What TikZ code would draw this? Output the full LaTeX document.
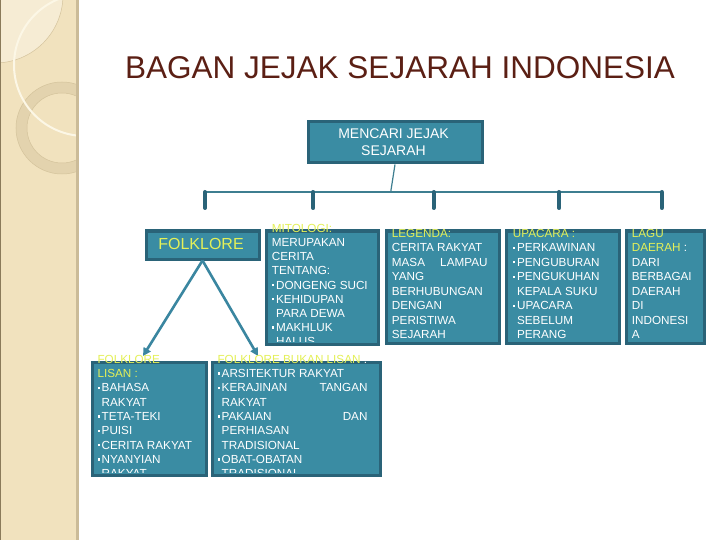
\documentclass[tikz,border=0pt]{standalone}
\usepackage{fontspec}
\setmainfont{Liberation Sans}
\usetikzlibrary{arrows.meta}
\definecolor{boxfill}{RGB}{58,140,163}
\definecolor{boxline}{RGB}{42,99,120}
\definecolor{linkcol}{RGB}{62,126,144}
\definecolor{arrowcol}{RGB}{58,134,160}
\definecolor{yel}{RGB}{228,240,88}
\definecolor{titlecol}{RGB}{91,31,20}
\definecolor{strip}{RGB}{241,226,190}
\definecolor{stripedge}{RGB}{203,187,152}
\definecolor{stripdark}{RGB}{138,122,90}
\definecolor{lightpatch}{RGB}{246,236,212}
\definecolor{ringcol}{RGB}{227,211,174}
\definecolor{ringedge}{RGB}{212,195,156}
\definecolor{whitearc}{RGB}{252,247,230}
\newcommand\bul{\rule[2.9pt]{2.3pt}{2.3pt}\hspace{1.9pt}}
\newcommand\ind{\hspace*{4.2pt}}
\newcommand\yl[1]{\textcolor{yel}{#1}}
\newcommand\jline[2]{\leavevmode\hbox to #1{#2}}
\tikzset{
  chartbox/.style={draw=boxline, fill=boxfill, line width=3pt, inner sep=0pt, anchor=north west},
  bodytext/.style={anchor=base west, inner sep=0pt, text=white},
  stub/.style={draw=boxline, line width=4pt, line cap=round},
  barline/.style={draw=linkcol, line width=1.2pt},
  folkarrow/.style={draw=arrowcol, line width=2.6pt, -{Triangle[length=8pt,width=8pt]}}
}
\begin{document}
\begin{tikzpicture}[x=1pt,y=-1pt]
\useasboundingbox (0,0) rectangle (720,540);
\fill[white] (0,0) rectangle (720,540);
% left decorative strip
\begin{scope}
  \clip (0,0) rectangle (78,540);
  \fill[strip] (0,0) rectangle (78,540);
  \filldraw[fill=lightpatch, draw=ringedge, line width=0.5pt] (-5,-5) circle (68);
  \draw[ringcol, line width=11pt] (62,128) circle (40.5);
  \draw[ringedge, line width=0.5pt] (62,128) circle (46);
  \draw[ringedge, line width=0.5pt] (62,128) circle (35);
  \draw[whitearc, line width=2pt] (85,65) circle (71);
\end{scope}
\draw[stripdark, line width=1pt] (0.5,0) -- (0.5,540);
\draw[stripedge, line width=3pt] (77,0) -- (77,540);
% title
\node[anchor=base, inner sep=0pt, text=titlecol, font=\fontsize{31.5}{36}\selectfont] (title) at (400,79) {BAGAN JEJAK SEJARAH INDONESIA};
% top box
\node[chartbox, minimum width=174pt, minimum height=41pt] (top) at (306.5,120.5) {};
\node[inner sep=0pt, text=white, align=center, font=\fontsize{14}{17.3}\selectfont] (toptext) at (393.5,142) {MENCARI JEJAK\\SEJARAH};
% bar and stubs
\coordinate (bar) at (390.7,192);
\coordinate (b1) at (205,192); \coordinate (b2) at (313.3,192); \coordinate (b3) at (433.5,192);
\coordinate (b4) at (559.3,192); \coordinate (b5) at (661.7,192);
\coordinate (s1) at (205,208); \coordinate (s2) at (313.3,208); \coordinate (s3) at (433.5,208);
\coordinate (s4) at (559.3,208); \coordinate (s5) at (661.7,208);
\draw[barline] (top.south) -- (bar);
\draw[barline] (b1) -- (b5);
\foreach \i in {1,...,5} { \draw[stub] (b\i) -- (s\i); }
% row boxes
\node[chartbox, minimum width=113pt, minimum height=28pt] (folk) at (144.5,229.5) {};
\node[chartbox, minimum width=112pt, minimum height=113pt] (mito) at (264.5,229.5) {};
\node[chartbox, minimum width=113pt, minimum height=112pt] (leg) at (384.5,229.5) {};
\node[chartbox, minimum width=113pt, minimum height=112pt] (upa) at (504.5,229.5) {};
\node[chartbox, minimum width=78pt, minimum height=112pt] (lagu) at (624.5,229.5) {};
% bottom boxes
\node[chartbox, minimum width=114pt, minimum height=113pt] (lisan) at (90.5,360.5) {};
\node[chartbox, minimum width=168pt, minimum height=113pt] (bukan) at (210.5,360.5) {};
% folklore label and arrows
\node[inner sep=0pt, text=yel, font=\fontsize{16}{19}\selectfont] (folktext) at (201,244) {FOLKLORE};
\coordinate (t1) at (143,356);
\coordinate (t2) at (258,356);
\draw[folkarrow] (folk.south) -- (t1);
\draw[folkarrow] (folk.south) -- (t2);
% texts
\begin{scope}
  \clip (260,200) rectangle (380,341.5);
  \node[bodytext] (mitot) at (271.7,232.3) {\parbox[t]{200pt}{\fontsize{11.7}{14.2}\selectfont\raggedright
  \yl{MITOLOGI:}\\
  MERUPAKAN\\
  CERITA\\
  TENTANG:\\
  \bul DONGENG SUCI\\
  \bul KEHIDUPAN\\
  \ind PARA DEWA\\
  \bul MAKHLUK\\
  \ind HALUS}};
\end{scope}
\begin{scope}
  \clip (380,200) rectangle (720,340.5);
  \node[bodytext] (legt) at (391.7,237.3) {\parbox[t]{200pt}{\fontsize{11.7}{14.5}\selectfont\raggedright
  \yl{LEGENDA:}\\
  CERITA RAKYAT\\
  \jline{95.6pt}{MASA\hfill LAMPAU}\\
  YANG\\
  BERHUBUNGAN\\
  DENGAN\\
  PERISTIWA\\
  SEJARAH}};
  \node[bodytext] (upat) at (512.7,237.3) {\parbox[t]{200pt}{\fontsize{11.7}{14.5}\selectfont\raggedright
  \yl{UPACARA :}\\
  \bul PERKAWINAN\\
  \bul PENGUBURAN\\
  \bul PENGUKUHAN\\
  \ind KEPALA SUKU\\
  \bul UPACARA\\
  \ind SEBELUM\\
  \ind PERANG}};
  \node[bodytext] (lagut) at (631.7,237.3) {\parbox[t]{200pt}{\fontsize{11.7}{14.5}\selectfont\raggedright
  \yl{LAGU}\\
  \yl{DAERAH} :\\
  DARI\\
  BERBAGAI\\
  DAERAH\\
  DI\\
  INDONESI\\
  A}};
\end{scope}
\begin{scope}
  \clip (85,330) rectangle (390,472.5);
  \node[bodytext] (lisant) at (97.3,363.3) {\parbox[t]{200pt}{\fontsize{11.7}{14.3}\selectfont\raggedright
  \yl{FOLKLORE}\\
  \yl{LISAN :}\\
  \bul BAHASA\\
  \ind RAKYAT\\
  \bul TETA-TEKI\\
  \bul PUISI\\
  \bul CERITA RAKYAT\\
  \bul NYANYIAN\\
  \ind RAKYAT}};
  \node[bodytext] (bukant) at (217.3,363.3) {\parbox[t]{250pt}{\fontsize{11.7}{14.3}\selectfont\raggedright
  \yl{FOLKLORE BUKAN LISAN} :\\
  \bul ARSITEKTUR RAKYAT\\
  \jline{150pt}{\bul KERAJINAN\hfill TANGAN}\\
  \ind RAKYAT\\
  \jline{150pt}{\bul PAKAIAN\hfill DAN}\\
  \ind PERHIASAN\\
  \ind TRADISIONAL\\
  \bul OBAT-OBATAN\\
  \ind TRADISIONAL}};
\end{scope}
\end{tikzpicture}
\end{document}
